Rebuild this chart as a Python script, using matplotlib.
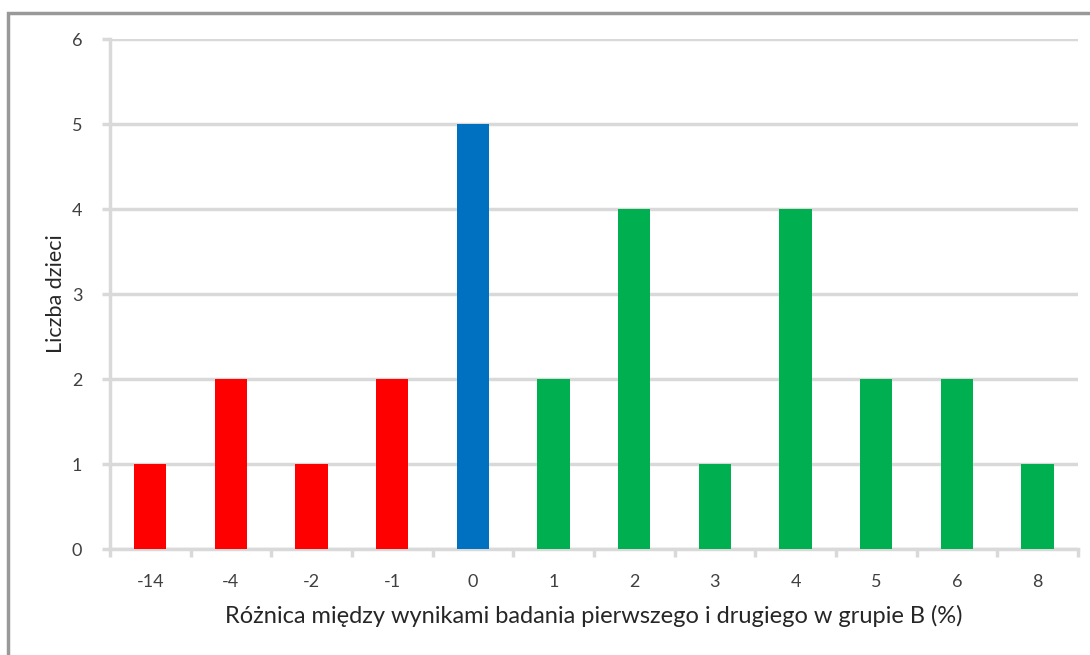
import numpy as np
import matplotlib
matplotlib.use('Agg')
import matplotlib.pyplot as plt
import matplotlib.patches as mpatches

# data
categories = ['-14', '-4', '-2', '-1', '0', '1', '2', '3', '4', '5', '6', '8']
counts = [1, 2, 1, 2, 5, 2, 4, 1, 4, 2, 2, 1]
bar_colors = ['#ff0000'] * 4 + ['#0070c0'] + ['#00b050'] * 7

plt.rcParams['font.family'] = ['Lato', 'DejaVu Sans']

fig = plt.figure(figsize=(10.9, 6.55), dpi=100)
ax = fig.add_axes([0.1009, 0.1618, 0.888, 0.7786])

x = np.arange(len(categories))
ax.bar(x, counts, width=0.4, color=bar_colors, zorder=3)

ax.set_xlim(-0.5, len(categories) - 0.5)
ax.set_ylim(0, 6)
ax.set_yticks(range(0, 7))
ax.set_xticks(x)
ax.set_xticklabels(categories)
ax.set_xticks(np.arange(-0.5, len(categories), 1), minor=True)

grid_c = '#d9d9d9'
ax.yaxis.grid(True, color=grid_c, linewidth=2.5, zorder=0)
for s in ['top', 'right']:
    ax.spines[s].set_visible(False)
for s in ['left', 'bottom']:
    ax.spines[s].set_color(grid_c)
    ax.spines[s].set_linewidth(2.5)

ax.tick_params(axis='x', which='major', length=0, pad=18, labelsize=13, labelcolor='#404040')
ax.tick_params(axis='x', which='minor', length=6, width=2.5, color=grid_c)
ax.tick_params(axis='y', length=6, width=2.5, color=grid_c, pad=14, labelsize=13, labelcolor='#404040')

ax.set_xlabel('Różnica między wynikami badania pierwszego i drugiego w grupie B (%)',
              fontsize=17, color='#262626', labelpad=11)
ax.set_ylabel('Liczba dzieci', fontsize=15.5, color='#262626', labelpad=4)

# outer chart border (cut off at right and bottom)
border = mpatches.Rectangle((8 / 1090, -0.1), 1.2, 1 - 13 / 655 + 0.1,
                            transform=fig.transFigure, fill=False,
                            edgecolor='#999999', linewidth=2.5, clip_on=False)
fig.patches.append(border)

plt.savefig('out.png', dpi=100)
print("Done.")
